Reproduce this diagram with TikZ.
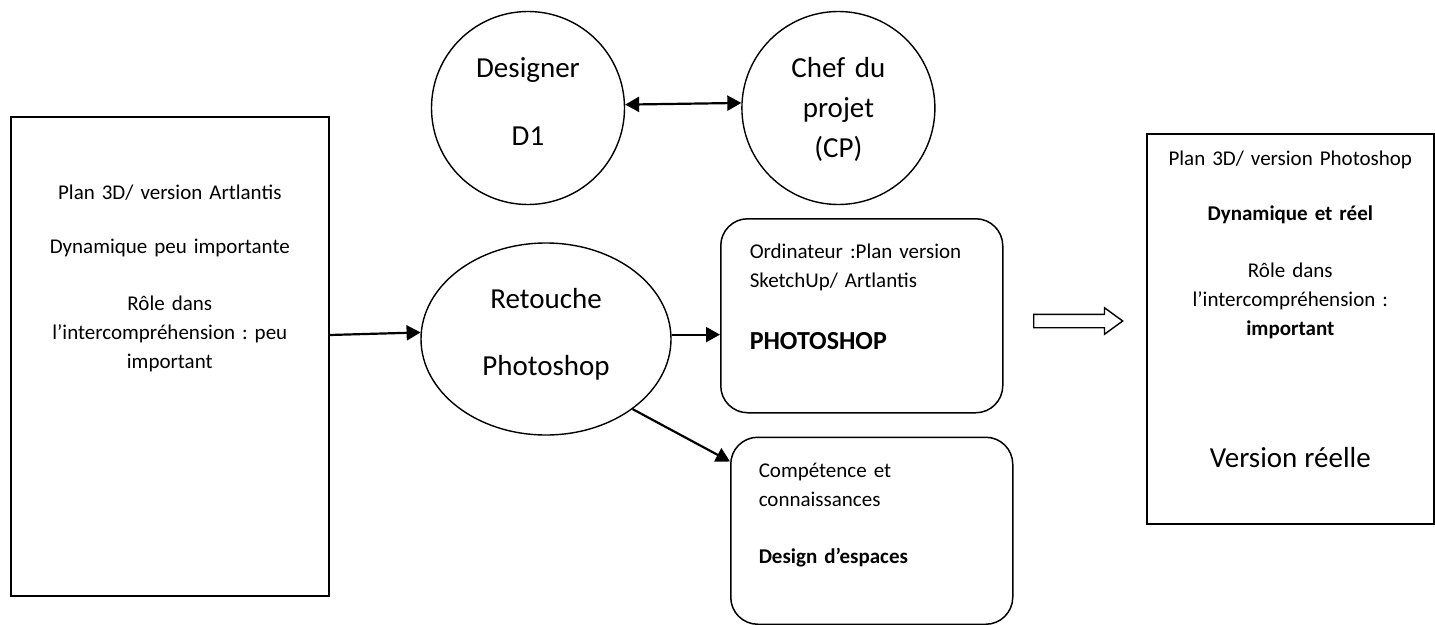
\documentclass[tikz,border=0pt]{standalone}
\usepackage{fontspec}
\setmainfont{Carlito}
\usetikzlibrary{arrows.meta,positioning,shapes.geometric,shapes.arrows}

\begin{document}
\begin{tikzpicture}[
    x=1pt, y=-1pt,
    every node/.style={font=\fontsize{21}{29}\selectfont\frenchspacing, inner sep=0pt},
    plainB/.style={rectangle, draw, line width=1.6pt, align=center},
    roundB/.style={rectangle, rounded corners=27pt, draw, line width=1.5pt,
                   align=left, inner xsep=29pt, text width=224pt},
    bigC/.style={circle, draw, line width=1.4pt, minimum size=193pt,
                 text width=130pt, align=center, font=\fontsize{29}{40}\selectfont},
    bigE/.style={ellipse, draw, line width=1.4pt, minimum width=250pt,
                 minimum height=192pt, text width=140pt, align=center,
                 font=\fontsize{29}{40}\selectfont},
    hollowA/.style={single arrow, draw, line width=1.4pt, inner xsep=0pt,
                    inner ysep=6pt, minimum height=89pt,
                    single arrow head extend=6.5pt, single arrow tip angle=72},
    arr/.style={-{Triangle[length=14pt,width=15pt]}, line width=2.2pt},
    darr/.style={{Triangle[length=14pt,width=15pt]}-{Triangle[length=14pt,width=15pt]}, line width=2.2pt}
  ]
  \useasboundingbox[fill=white] (0,0) rectangle (1435,624);
  % Left and right: plans
  \node[plainB, anchor=north west, text width=298pt, inner xsep=10pt,
        text height=83pt, text depth=396pt] (artlantis) at (10,116)
    {Plan 3D/ version Artlantis\\[25pt]Dynamique peu importante\\[28pt]%
     Rôle dans\\l’intercompréhension : peu\\important};
  \node[plainB, anchor=north west, text width=271pt, inner xsep=8pt,
        text height=32pt, text depth=358pt] (photoshop) at (1146,133)
    {Plan 3D/ version Photoshop\\[26pt]\textbf{Dynamique et réel}\\[28pt]%
     Rôle dans\\l’intercompréhension :\\ \textbf{important}\\[103pt]%
     {\fontsize{29}{35}\selectfont Version réelle}};
  % Top: actors
  \node[bigC, text height=19pt, text depth=81pt] (designer) at (528,108)
    {Designer\\[28pt]D1};
  \node[bigC, text height=19pt, text depth=81pt, right=116pt of designer] (chef)
    {Chef du\\projet\\(CP)};
  % Middle: retouching
  \node[bigE, text height=19pt, text depth=81pt] (retouche) at (546,339)
    {Retouche\\[27pt]Photoshop};
  \node[roundB, anchor=north west, text height=40pt, text depth=154pt] (ordi)
    at (720,218)
    {Ordinateur :Plan version\\SketchUp/ Artlantis\\[33pt]%
     {\fontsize{26}{29}\selectfont\bfseries PHOTOSHOP}};
  \node[roundB, inner xsep=28pt, text width=226pt, text height=40pt, text depth=147pt,
        below right=23pt and 10pt of ordi.south west, anchor=north west] (comp)
    {Compétence et\\connaissances\\[28pt]\textbf{Design d’espaces}};
  \node[hollowA, anchor=tail] (versA) at (1033,321) {};
  % Arrows
  \draw[darr] (designer.2) -- (chef.177);
  \draw[arr] ([yshift=4pt]retouche.west -| artlantis.east) -- (retouche.177);
  \draw[arr] (retouche.2) -- (retouche.2 -| ordi.west);
  \draw[arr] (retouche.-39) -- ([yshift=-25pt]comp.north west);
\end{tikzpicture}
\end{document}
